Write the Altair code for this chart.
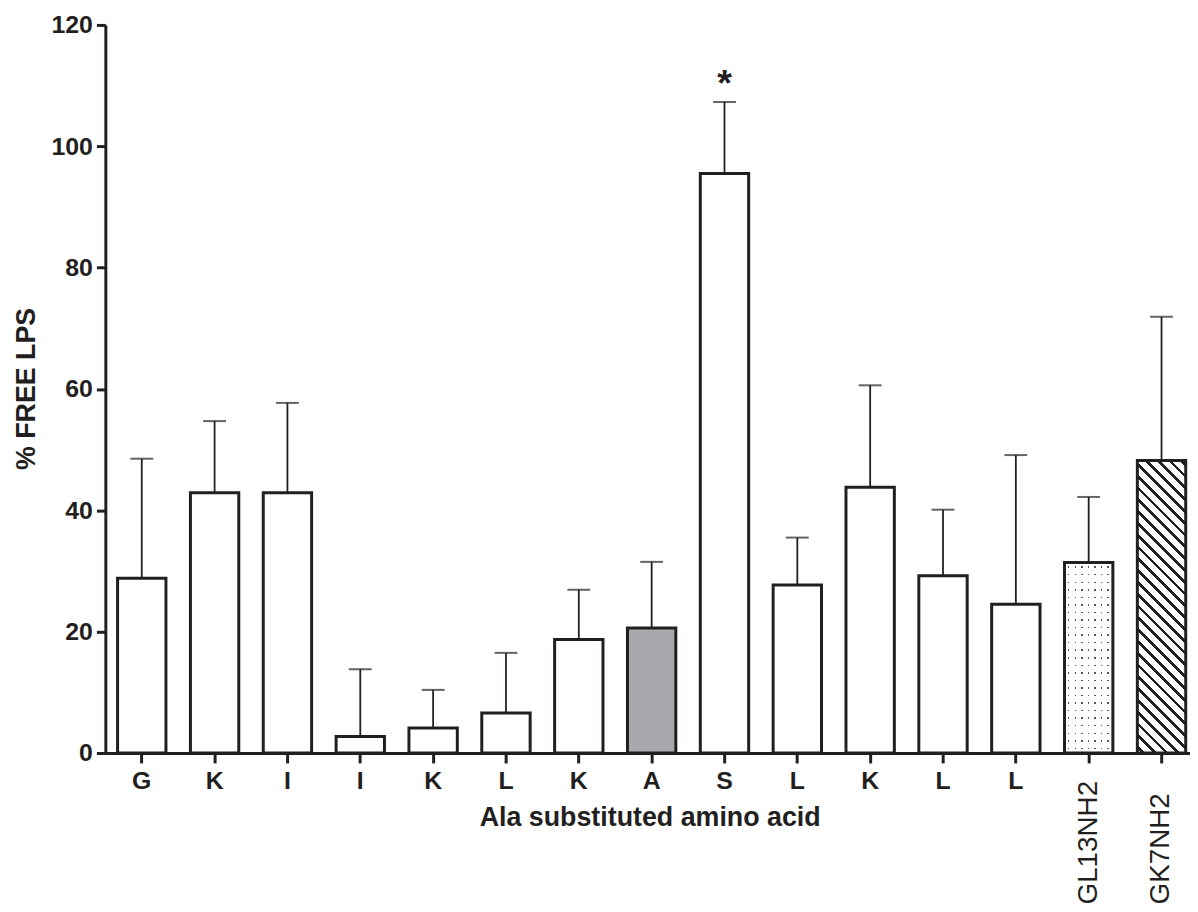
import altair as alt
import pandas as pd

# ---------------- data ----------------
residues = ["G", "K", "I", "I", "K", "L", "K", "A", "S", "L", "K", "L", "L", "GL13NH2", "GK7NH2"]
free_lps = [28.8, 42.9, 42.9, 2.7, 4.1, 6.6, 18.7, 20.6, 95.5, 27.7, 43.8, 29.2, 24.5, 31.4, 48.2]
error = [19.7, 11.8, 14.8, 11.1, 6.3, 9.9, 8.2, 10.9, 11.8, 7.8, 16.8, 10.9, 24.6, 10.8, 23.7]
significance = ["", "", "", "", "", "", "", "", "*", "", "", "", "", "", ""]
y_ticks = [0, 20, 40, 60, 80, 100, 120]

keys = [f"{i + 1:02d}|{r}" for i, r in enumerate(residues)]
df = pd.DataFrame({
    "key": keys,
    "residue": residues,
    "value": free_lps,
    "err": error,
    "sig": significance,
})
df["upper"] = df["value"] + df["err"]

# ---------------- layout / style ----------------
W, H = 1100, 733
PAD = {"left": 98, "top": 14, "right": -8, "bottom": 148}
Y_MAX = 120
P_INNER = 0.336
P_OUTER = P_INNER / 2
INK = "#231f20"
FONT = "Liberation Sans"

step = W / (len(keys) - P_INNER + 2 * P_OUTER)
bw = step * (1 - P_INNER)
px_per_unit = H / Y_MAX


def stripe_stops(length_px, period_px, width_px, ink, paper, phase_px=0.0):
    stops = [{"offset": 0, "color": paper}]
    pos = phase_px
    while pos < length_px:
        a = round(max(pos / length_px, 0.0), 5)
        b = round(min((pos + width_px) / length_px, 1.0), 5)
        stops += [
            {"offset": a, "color": paper},
            {"offset": a, "color": ink},
            {"offset": b, "color": ink},
            {"offset": b, "color": paper},
        ]
        pos += period_px
    stops.append({"offset": 1, "color": paper})
    return stops


# diagonal hatch for GK7NH2
h_gk = free_lps[residues.index("GK7NH2")] * px_per_unit
s = (1 / h_gk + 1 / bw) / (1 / h_gk ** 2 + 1 / bw ** 2)
hatch_len = (bw + h_gk) / 2 ** 0.5
hatch = {
    "gradient": "linear",
    "x1": 0, "y1": 1,
    "x2": round(s / h_gk, 5), "y2": round(1 - s / bw, 5),
    "stops": stripe_stops(hatch_len, 8.4, 2.6, INK, "#ffffff", phase_px=3.0),
}

# dotted fill for GL13NH2: rows of ink masked by white columns
h_gl = free_lps[residues.index("GL13NH2")] * px_per_unit
rows = {
    "gradient": "linear", "x1": 0, "y1": 0, "x2": 0, "y2": 1,
    "stops": stripe_stops(h_gl, 7.6, 1.5, "#555555", "#ffffff", phase_px=4.0),
}
cols = {
    "gradient": "linear", "x1": 0, "y1": 0, "x2": 1, "y2": 0,
    "stops": stripe_stops(bw, 6.6, 1.5, "rgba(255,255,255,0)", "#ffffff", phase_px=3.5),
}

x_scale = alt.Scale(paddingInner=P_INNER, paddingOuter=P_OUTER)
y_scale = alt.Scale(domain=[0, Y_MAX], nice=False, zero=True)

# main x axis: bold one-letter labels
x_main = alt.X(
    "key:N", sort=keys, scale=x_scale,
    axis=alt.Axis(
        orient="bottom",
        title="Ala substituted amino acid",
        titleFont=FONT, titleFontSize=27, titleFontWeight="bold", titleColor=INK,
        titleY=73, titleBaseline="alphabetic", titleX=548,
        labelExpr="indexof(datum.value, 'NH2') >= 0 ? '' : split(datum.value, '|')[1]",
        labelFont=FONT, labelFontSize=25, labelFontWeight="bold", labelColor=INK,
        labelAngle=0, labelAlign="center", labelBaseline="top",
        labelPadding=6, labelOverlap=False, labelBound=False,
        tickSize=10, tickWidth=3, tickColor=INK,
        domainWidth=3, domainColor=INK,
    ),
)
# second x axis on the same scale: rotated peptide names
x_rot = alt.X(
    "key:N", sort=keys, scale=x_scale,
    axis=alt.Axis(
        orient="bottom",
        title=None,
        labelExpr="indexof(datum.value, 'NH2') >= 0 ? split(datum.value, '|')[1] : ''",
        labelFont=FONT, labelFontSize=28, labelFontWeight="normal", labelColor=INK,
        labelAngle=-90, labelAlign="left", labelBaseline="middle",
        labelPadding=142, labelOverlap=False, labelBound=False,
        tickSize=10, tickOpacity=0, domain=False,
    ),
)
x_plain = alt.X("key:N", sort=keys, scale=x_scale, axis=None)

y_main = alt.Y(
    "value:Q", scale=y_scale,
    axis=alt.Axis(
        orient="left",
        values=y_ticks,
        title="% FREE LPS",
        titleFont=FONT, titleFontSize=27, titleFontWeight="bold", titleColor=INK,
        titleX=-79, titleY=366, titleBaseline="middle",
        labelFont=FONT, labelFontSize=25, labelFontWeight="bold", labelColor=INK,
        labelPadding=4,
        tickSize=9, tickWidth=3, tickColor=INK,
        domainWidth=3, domainColor=INK,
        grid=False,
    ),
)
y_plain = alt.Y("value:Q", scale=y_scale, axis=None)
y_upper = alt.Y("upper:Q", scale=y_scale, axis=None)

base = alt.Chart(df)

fill_bars = base.mark_bar(strokeWidth=0).encode(
    x=x_main, y=y_main,
    fill=alt.condition("datum.residue == 'A'", alt.value("#a7a9ac"), alt.value("#ffffff")),
)
hatch_bar = base.transform_filter("datum.residue == 'GK7NH2'").mark_bar(
    fill=hatch, strokeWidth=0
).encode(x=x_plain, y=y_plain)
rows_bar = base.transform_filter("datum.residue == 'GL13NH2'").mark_bar(
    fill=rows, strokeWidth=0
).encode(x=x_plain, y=y_plain)
cols_bar = base.transform_filter("datum.residue == 'GL13NH2'").mark_bar(
    fill=cols, strokeWidth=0
).encode(x=x_plain, y=y_plain)
outline = base.mark_bar(fillOpacity=0, stroke=INK, strokeWidth=3).encode(x=x_rot, y=y_plain)

whisker = base.mark_rule(color=INK, strokeWidth=1.8).encode(
    x=x_plain, y=y_plain, y2="upper:Q"
)
caps = base.mark_tick(color=INK, size=23, thickness=2).encode(x=x_plain, y=y_upper)
stars = base.mark_text(
    font=FONT, fontSize=38, fontWeight="bold", color=INK,
    baseline="alphabetic", align="center", dy=-6,
).encode(x=x_plain, y=y_upper, text="sig:N")

chart = alt.layer(
    fill_bars, hatch_bar, rows_bar, cols_bar, outline, whisker, caps, stars
).resolve_axis(x="independent", y="independent").properties(
    width=W, height=H,
    autosize=alt.AutoSizeParams(type="none"),
    padding=PAD,
    background="white",
).configure_view(stroke=None)

chart.save("out.html", embed_options={"renderer": "svg", "actions": False})
